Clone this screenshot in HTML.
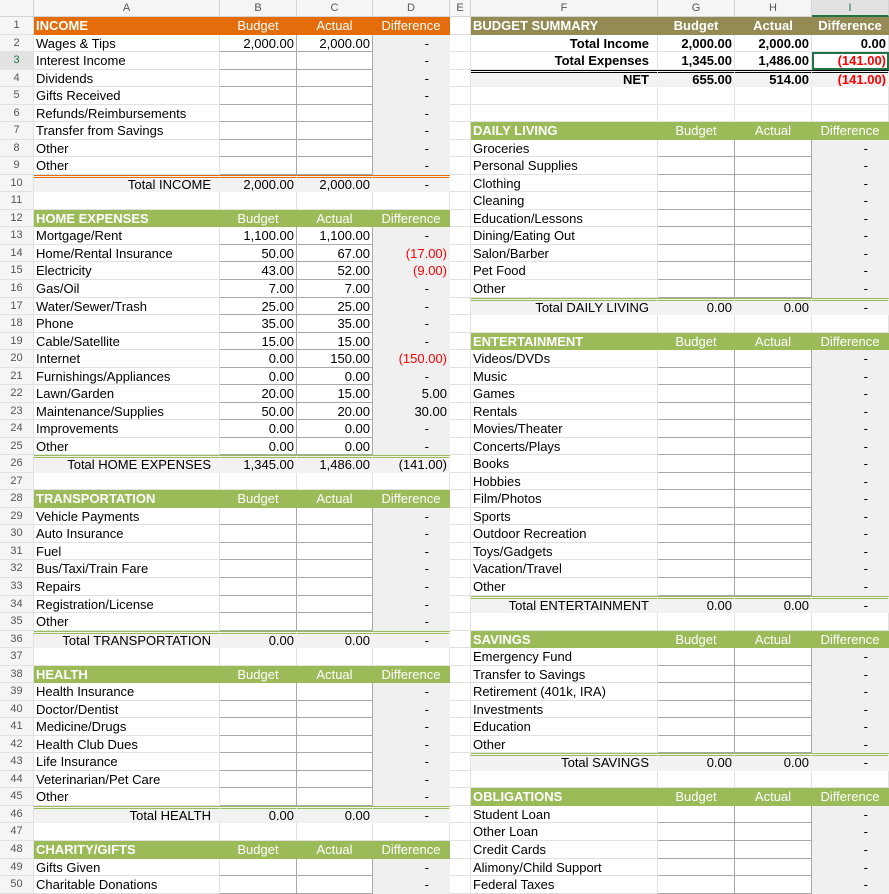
<!DOCTYPE html>
<html><head><meta charset="utf-8">
<style>
*{box-sizing:border-box;margin:0;padding:0}
body{width:889px;height:881px;overflow:hidden;background:#fff;font-family:"Liberation Sans",Arial,sans-serif;font-size:13px;color:#000}
.r{height:17.54px;display:flex;white-space:nowrap}
.r>span{display:block;height:100%;line-height:17px;border-right:1px solid #e1e1e1;border-bottom:1px solid #e1e1e1;overflow:hidden;padding:0 2px}
.hr{height:17px;background:#f5f5f5;color:#555;font-size:11px}
.hr>span{text-align:center;line-height:16px;border-color:#d4d4d4}
.n{width:34px;text-align:center;font-size:11px;color:#555;background:#f5f5f5}
.a,.f{width:186px}.f{width:187px}
.b,.c,.d,.g,.h,.i{width:77px;text-align:right}.c{width:76px}
.e{width:21px}
.o{background:#e46c0a;color:#fff;border-color:#e46c0a!important}
.G{background:#9bbb59;color:#fff;border-color:#9bbb59!important}
.s{background:#948a54;color:#fff;border-color:#948a54!important;font-weight:bold}
.hd{font-weight:bold}
.hc{text-align:center!important}
.x{border-right:1px solid #a8a8a8!important;border-bottom:1px solid #a8a8a8!important}
.dd{background:#f0f0f0;border-color:#f0f0f0!important;padding-right:20px!important}
.dn{background:#f0f0f0;border-color:#f0f0f0!important}
.r>span.t,.r>span.tr{background:#f2f2f2;border-right-color:#f2f2f2;border-bottom-color:#f2f2f2;border-top:3px double #9bbb59;line-height:13px}
.r>span.to{border-top-color:#e46c0a}
.lb{text-align:right;padding-right:8px!important}
.red{color:#f00}
.bo{font-weight:bold}
.r>span.net{background:#f2f2f2;border-top:3px double #000;border-right-color:#f2f2f2;border-bottom-color:#f2f2f2;font-weight:bold;line-height:13px}
.sel{outline:2px solid #217346;outline-offset:-2px}
</style></head><body>
<div class="r hr"><span class="n"></span><span class="a">A</span><span class="b">B</span><span class="c">C</span><span class="d">D</span><span class="e">E</span><span class="f">F</span><span class="g">G</span><span class="h">H</span><span class="i" style="color:#217346;background:#e2e2e2;border-bottom:2px solid #217346">I</span></div>

<div class="r"><span class="n">1</span><span class="a o hd">INCOME</span><span class="b o hc">Budget</span><span class="c o hc">Actual</span><span class="d o hc">Difference</span><span class="e"></span><span class="f s">BUDGET SUMMARY</span><span class="g s hc">Budget</span><span class="h s hc">Actual</span><span class="i s hc">Difference</span></div>
<div class="r"><span class="n">2</span><span class="a">Wages &amp; Tips</span><span class="b x">2,000.00</span><span class="c x">2,000.00</span><span class="d dd">-</span><span class="e"></span><span class="f lb bo">Total Income</span><span class="g bo">2,000.00</span><span class="h bo">2,000.00</span><span class="i bo">0.00</span></div>
<div class="r"><span class="n" style="color:#217346;background:#e2e2e2">3</span><span class="a">Interest Income</span><span class="b x"></span><span class="c x"></span><span class="d dd">-</span><span class="e"></span><span class="f lb bo">Total Expenses</span><span class="g bo">1,345.00</span><span class="h bo">1,486.00</span><span class="i bo red sel">(141.00)</span></div>
<div class="r"><span class="n">4</span><span class="a">Dividends</span><span class="b x"></span><span class="c x"></span><span class="d dd">-</span><span class="e"></span><span class="f lb net">NET</span><span class="g net">655.00</span><span class="h net">514.00</span><span class="i net red">(141.00)</span></div>
<div class="r"><span class="n">5</span><span class="a">Gifts Received</span><span class="b x"></span><span class="c x"></span><span class="d dd">-</span><span class="e"></span><span class="f"></span><span class="g"></span><span class="h"></span><span class="i"></span></div>
<div class="r"><span class="n">6</span><span class="a">Refunds/Reimbursements</span><span class="b x"></span><span class="c x"></span><span class="d dd">-</span><span class="e"></span><span class="f"></span><span class="g"></span><span class="h"></span><span class="i"></span></div>
<div class="r"><span class="n">7</span><span class="a">Transfer from Savings</span><span class="b x"></span><span class="c x"></span><span class="d dd">-</span><span class="e"></span><span class="f G hd">DAILY LIVING</span><span class="g G hc">Budget</span><span class="h G hc">Actual</span><span class="i G hc">Difference</span></div>
<div class="r"><span class="n">8</span><span class="a">Other</span><span class="b x"></span><span class="c x"></span><span class="d dd">-</span><span class="e"></span><span class="f">Groceries</span><span class="g x"></span><span class="h x"></span><span class="i dd">-</span></div>
<div class="r"><span class="n">9</span><span class="a">Other</span><span class="b x"></span><span class="c x"></span><span class="d dd">-</span><span class="e"></span><span class="f">Personal Supplies</span><span class="g x"></span><span class="h x"></span><span class="i dd">-</span></div>
<div class="r"><span class="n">10</span><span class="a t to lb">Total INCOME</span><span class="b t to">2,000.00</span><span class="c t to">2,000.00</span><span class="d tr to" style="padding-right:20px">-</span><span class="e"></span><span class="f">Clothing</span><span class="g x"></span><span class="h x"></span><span class="i dd">-</span></div>
<div class="r"><span class="n">11</span><span class="a"></span><span class="b"></span><span class="c"></span><span class="d"></span><span class="e"></span><span class="f">Cleaning</span><span class="g x"></span><span class="h x"></span><span class="i dd">-</span></div>
<div class="r"><span class="n">12</span><span class="a G hd">HOME EXPENSES</span><span class="b G hc">Budget</span><span class="c G hc">Actual</span><span class="d G hc">Difference</span><span class="e"></span><span class="f">Education/Lessons</span><span class="g x"></span><span class="h x"></span><span class="i dd">-</span></div>
<div class="r"><span class="n">13</span><span class="a">Mortgage/Rent</span><span class="b x">1,100.00</span><span class="c x">1,100.00</span><span class="d dd">-</span><span class="e"></span><span class="f">Dining/Eating Out</span><span class="g x"></span><span class="h x"></span><span class="i dd">-</span></div>
<div class="r"><span class="n">14</span><span class="a">Home/Rental Insurance</span><span class="b x">50.00</span><span class="c x">67.00</span><span class="d dn red">(17.00)</span><span class="e"></span><span class="f">Salon/Barber</span><span class="g x"></span><span class="h x"></span><span class="i dd">-</span></div>
<div class="r"><span class="n">15</span><span class="a">Electricity</span><span class="b x">43.00</span><span class="c x">52.00</span><span class="d dn red">(9.00)</span><span class="e"></span><span class="f">Pet Food</span><span class="g x"></span><span class="h x"></span><span class="i dd">-</span></div>
<div class="r"><span class="n">16</span><span class="a">Gas/Oil</span><span class="b x">7.00</span><span class="c x">7.00</span><span class="d dd">-</span><span class="e"></span><span class="f">Other</span><span class="g x"></span><span class="h x"></span><span class="i dd">-</span></div>
<div class="r"><span class="n">17</span><span class="a">Water/Sewer/Trash</span><span class="b x">25.00</span><span class="c x">25.00</span><span class="d dd">-</span><span class="e"></span><span class="f t lb">Total DAILY LIVING</span><span class="g t">0.00</span><span class="h t">0.00</span><span class="i tr" style="padding-right:20px">-</span></div>
<div class="r"><span class="n">18</span><span class="a">Phone</span><span class="b x">35.00</span><span class="c x">35.00</span><span class="d dd">-</span><span class="e"></span><span class="f"></span><span class="g"></span><span class="h"></span><span class="i"></span></div>
<div class="r"><span class="n">19</span><span class="a">Cable/Satellite</span><span class="b x">15.00</span><span class="c x">15.00</span><span class="d dd">-</span><span class="e"></span><span class="f G hd">ENTERTAINMENT</span><span class="g G hc">Budget</span><span class="h G hc">Actual</span><span class="i G hc">Difference</span></div>
<div class="r"><span class="n">20</span><span class="a">Internet</span><span class="b x">0.00</span><span class="c x">150.00</span><span class="d dn red">(150.00)</span><span class="e"></span><span class="f">Videos/DVDs</span><span class="g x"></span><span class="h x"></span><span class="i dd">-</span></div>
<div class="r"><span class="n">21</span><span class="a">Furnishings/Appliances</span><span class="b x">0.00</span><span class="c x">0.00</span><span class="d dd">-</span><span class="e"></span><span class="f">Music</span><span class="g x"></span><span class="h x"></span><span class="i dd">-</span></div>
<div class="r"><span class="n">22</span><span class="a">Lawn/Garden</span><span class="b x">20.00</span><span class="c x">15.00</span><span class="d dn">5.00</span><span class="e"></span><span class="f">Games</span><span class="g x"></span><span class="h x"></span><span class="i dd">-</span></div>
<div class="r"><span class="n">23</span><span class="a">Maintenance/Supplies</span><span class="b x">50.00</span><span class="c x">20.00</span><span class="d dn">30.00</span><span class="e"></span><span class="f">Rentals</span><span class="g x"></span><span class="h x"></span><span class="i dd">-</span></div>
<div class="r"><span class="n">24</span><span class="a">Improvements</span><span class="b x">0.00</span><span class="c x">0.00</span><span class="d dd">-</span><span class="e"></span><span class="f">Movies/Theater</span><span class="g x"></span><span class="h x"></span><span class="i dd">-</span></div>
<div class="r"><span class="n">25</span><span class="a">Other</span><span class="b x">0.00</span><span class="c x">0.00</span><span class="d dd">-</span><span class="e"></span><span class="f">Concerts/Plays</span><span class="g x"></span><span class="h x"></span><span class="i dd">-</span></div>
<div class="r"><span class="n">26</span><span class="a t lb">Total HOME EXPENSES</span><span class="b t">1,345.00</span><span class="c t">1,486.00</span><span class="d tr">(141.00)</span><span class="e"></span><span class="f">Books</span><span class="g x"></span><span class="h x"></span><span class="i dd">-</span></div>
<div class="r"><span class="n">27</span><span class="a"></span><span class="b"></span><span class="c"></span><span class="d"></span><span class="e"></span><span class="f">Hobbies</span><span class="g x"></span><span class="h x"></span><span class="i dd">-</span></div>
<div class="r"><span class="n">28</span><span class="a G hd">TRANSPORTATION</span><span class="b G hc">Budget</span><span class="c G hc">Actual</span><span class="d G hc">Difference</span><span class="e"></span><span class="f">Film/Photos</span><span class="g x"></span><span class="h x"></span><span class="i dd">-</span></div>
<div class="r"><span class="n">29</span><span class="a">Vehicle Payments</span><span class="b x"></span><span class="c x"></span><span class="d dd">-</span><span class="e"></span><span class="f">Sports</span><span class="g x"></span><span class="h x"></span><span class="i dd">-</span></div>
<div class="r"><span class="n">30</span><span class="a">Auto Insurance</span><span class="b x"></span><span class="c x"></span><span class="d dd">-</span><span class="e"></span><span class="f">Outdoor Recreation</span><span class="g x"></span><span class="h x"></span><span class="i dd">-</span></div>
<div class="r"><span class="n">31</span><span class="a">Fuel</span><span class="b x"></span><span class="c x"></span><span class="d dd">-</span><span class="e"></span><span class="f">Toys/Gadgets</span><span class="g x"></span><span class="h x"></span><span class="i dd">-</span></div>
<div class="r"><span class="n">32</span><span class="a">Bus/Taxi/Train Fare</span><span class="b x"></span><span class="c x"></span><span class="d dd">-</span><span class="e"></span><span class="f">Vacation/Travel</span><span class="g x"></span><span class="h x"></span><span class="i dd">-</span></div>
<div class="r"><span class="n">33</span><span class="a">Repairs</span><span class="b x"></span><span class="c x"></span><span class="d dd">-</span><span class="e"></span><span class="f">Other</span><span class="g x"></span><span class="h x"></span><span class="i dd">-</span></div>
<div class="r"><span class="n">34</span><span class="a">Registration/License</span><span class="b x"></span><span class="c x"></span><span class="d dd">-</span><span class="e"></span><span class="f t lb">Total ENTERTAINMENT</span><span class="g t">0.00</span><span class="h t">0.00</span><span class="i tr" style="padding-right:20px">-</span></div>
<div class="r"><span class="n">35</span><span class="a">Other</span><span class="b x"></span><span class="c x"></span><span class="d dd">-</span><span class="e"></span><span class="f"></span><span class="g"></span><span class="h"></span><span class="i"></span></div>
<div class="r"><span class="n">36</span><span class="a t lb">Total TRANSPORTATION</span><span class="b t">0.00</span><span class="c t">0.00</span><span class="d tr" style="padding-right:20px">-</span><span class="e"></span><span class="f G hd">SAVINGS</span><span class="g G hc">Budget</span><span class="h G hc">Actual</span><span class="i G hc">Difference</span></div>
<div class="r"><span class="n">37</span><span class="a"></span><span class="b"></span><span class="c"></span><span class="d"></span><span class="e"></span><span class="f">Emergency Fund</span><span class="g x"></span><span class="h x"></span><span class="i dd">-</span></div>
<div class="r"><span class="n">38</span><span class="a G hd">HEALTH</span><span class="b G hc">Budget</span><span class="c G hc">Actual</span><span class="d G hc">Difference</span><span class="e"></span><span class="f">Transfer to Savings</span><span class="g x"></span><span class="h x"></span><span class="i dd">-</span></div>
<div class="r"><span class="n">39</span><span class="a">Health Insurance</span><span class="b x"></span><span class="c x"></span><span class="d dd">-</span><span class="e"></span><span class="f">Retirement (401k, IRA)</span><span class="g x"></span><span class="h x"></span><span class="i dd">-</span></div>
<div class="r"><span class="n">40</span><span class="a">Doctor/Dentist</span><span class="b x"></span><span class="c x"></span><span class="d dd">-</span><span class="e"></span><span class="f">Investments</span><span class="g x"></span><span class="h x"></span><span class="i dd">-</span></div>
<div class="r"><span class="n">41</span><span class="a">Medicine/Drugs</span><span class="b x"></span><span class="c x"></span><span class="d dd">-</span><span class="e"></span><span class="f">Education</span><span class="g x"></span><span class="h x"></span><span class="i dd">-</span></div>
<div class="r"><span class="n">42</span><span class="a">Health Club Dues</span><span class="b x"></span><span class="c x"></span><span class="d dd">-</span><span class="e"></span><span class="f">Other</span><span class="g x"></span><span class="h x"></span><span class="i dd">-</span></div>
<div class="r"><span class="n">43</span><span class="a">Life Insurance</span><span class="b x"></span><span class="c x"></span><span class="d dd">-</span><span class="e"></span><span class="f t lb">Total SAVINGS</span><span class="g t">0.00</span><span class="h t">0.00</span><span class="i tr" style="padding-right:20px">-</span></div>
<div class="r"><span class="n">44</span><span class="a">Veterinarian/Pet Care</span><span class="b x"></span><span class="c x"></span><span class="d dd">-</span><span class="e"></span><span class="f"></span><span class="g"></span><span class="h"></span><span class="i"></span></div>
<div class="r"><span class="n">45</span><span class="a">Other</span><span class="b x"></span><span class="c x"></span><span class="d dd">-</span><span class="e"></span><span class="f G hd">OBLIGATIONS</span><span class="g G hc">Budget</span><span class="h G hc">Actual</span><span class="i G hc">Difference</span></div>
<div class="r"><span class="n">46</span><span class="a t lb">Total HEALTH</span><span class="b t">0.00</span><span class="c t">0.00</span><span class="d tr" style="padding-right:20px">-</span><span class="e"></span><span class="f">Student Loan</span><span class="g x"></span><span class="h x"></span><span class="i dd">-</span></div>
<div class="r"><span class="n">47</span><span class="a"></span><span class="b"></span><span class="c"></span><span class="d"></span><span class="e"></span><span class="f">Other Loan</span><span class="g x"></span><span class="h x"></span><span class="i dd">-</span></div>
<div class="r"><span class="n">48</span><span class="a G hd">CHARITY/GIFTS</span><span class="b G hc">Budget</span><span class="c G hc">Actual</span><span class="d G hc">Difference</span><span class="e"></span><span class="f">Credit Cards</span><span class="g x"></span><span class="h x"></span><span class="i dd">-</span></div>
<div class="r"><span class="n">49</span><span class="a">Gifts Given</span><span class="b x"></span><span class="c x"></span><span class="d dd">-</span><span class="e"></span><span class="f">Alimony/Child Support</span><span class="g x"></span><span class="h x"></span><span class="i dd">-</span></div>
<div class="r"><span class="n">50</span><span class="a">Charitable Donations</span><span class="b x"></span><span class="c x"></span><span class="d dd">-</span><span class="e"></span><span class="f">Federal Taxes</span><span class="g x"></span><span class="h x"></span><span class="i dd">-</span></div>
</body></html>
